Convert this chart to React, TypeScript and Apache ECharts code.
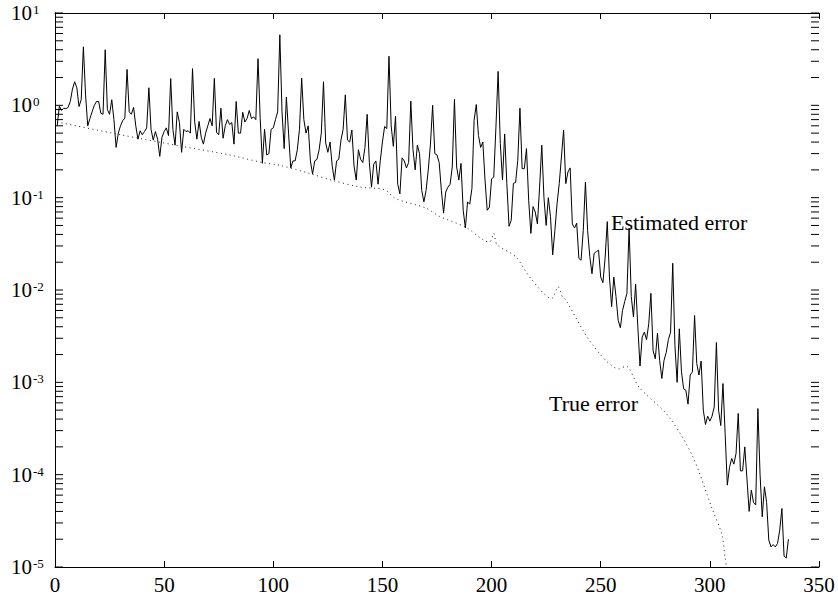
import React, { useEffect, useRef } from "react";
import * as echarts from "echarts";

// Estimated error for iterations 1..336
const estimatedError: number[] = [
  0.6, 0.98, 0.88, 0.93, 0.92, 0.95, 1.1, 1.5, 1.8, 1.55,
  0.97, 1.15, 4.3, 1.3, 0.6, 0.72, 0.85, 1.0, 1.1, 1.1,
  0.82, 0.8, 4.0, 0.9, 0.8, 1.15, 0.7, 0.35, 0.5, 0.6,
  0.68, 0.73, 2.45, 0.85, 0.8, 0.95, 0.6, 0.43, 0.53, 0.48,
  0.52, 0.57, 1.55, 0.55, 0.42, 0.52, 0.43, 0.28, 0.45, 0.52,
  0.57, 0.47, 1.95, 0.55, 0.37, 0.85, 0.65, 0.31, 0.55, 0.52,
  0.53, 0.5, 2.5, 0.66, 0.43, 0.67, 0.45, 0.38, 0.5, 0.6,
  0.72, 0.6, 1.96, 0.51, 0.48, 0.93, 0.44, 0.6, 0.7, 0.62,
  0.65, 0.38, 1.1, 0.5, 0.5, 0.84, 0.66, 0.72, 0.88, 0.72,
  0.75, 0.7, 3.2, 0.72, 0.236, 0.55, 0.29, 0.3, 0.55, 0.57,
  0.7, 0.85, 5.8, 0.85, 0.34, 1.23, 0.5, 0.21, 0.25, 0.25,
  0.33, 0.55, 1.97, 0.7, 0.5, 0.6, 0.25, 0.18, 0.25, 0.26,
  0.33, 0.5, 1.8, 0.39, 0.31, 0.4, 0.22, 0.155, 0.25, 0.26,
  0.42, 0.55, 1.3, 0.42, 0.4, 0.54, 0.22, 0.155, 0.33, 0.26,
  0.24, 0.35, 0.8, 0.24, 0.13, 0.23, 0.25, 0.14, 0.25, 0.4,
  0.59, 0.56, 3.4, 0.6, 0.36, 0.76, 0.14, 0.11, 0.27, 0.25,
  0.21, 0.24, 1.11, 0.33, 0.2, 0.37, 0.3, 0.12, 0.09, 0.12,
  0.2, 0.38, 1.0, 0.3, 0.29, 0.24, 0.12, 0.068, 0.115, 0.13,
  0.14, 0.215, 1.16, 0.215, 0.155, 0.235, 0.073, 0.047, 0.09, 0.085,
  0.126, 0.69, 1.02, 0.47, 0.35, 0.4, 0.155, 0.073, 0.079, 0.16,
  0.167, 0.58, 2.33, 0.385, 0.155, 0.49, 0.142, 0.049, 0.057, 0.143,
  0.146, 0.254, 0.93, 0.206, 0.206, 0.34, 0.094, 0.041, 0.08, 0.07,
  0.052, 0.13, 0.37, 0.1, 0.05, 0.1, 0.062, 0.024, 0.044, 0.086,
  0.142, 0.276, 0.54, 0.142, 0.19, 0.21, 0.052, 0.047, 0.053, 0.022,
  0.021, 0.044, 0.148, 0.044, 0.023, 0.015, 0.025, 0.026, 0.027, 0.0138,
  0.012, 0.022, 0.055, 0.0138, 0.0066, 0.0138, 0.0085, 0.0047, 0.0039, 0.006,
  0.0075, 0.0092, 0.047, 0.0085, 0.0051, 0.0116, 0.004, 0.0015, 0.0031, 0.0035,
  0.0029, 0.0043, 0.0092, 0.0022, 0.0018, 0.0034, 0.00173, 0.0011, 0.00173, 0.0021,
  0.0029, 0.0035, 0.0195, 0.0025, 0.001, 0.0038, 0.0013, 0.00085, 0.00082, 0.00058,
  0.0012, 0.0013, 0.0053, 0.0016, 0.0012, 0.0017, 0.0005, 0.00035, 0.00043, 0.00038,
  0.00043, 0.00054, 0.0027, 0.0005, 0.00034, 0.00097, 0.00028, 0.000077, 0.00012, 0.00015,
  0.00013, 0.00017, 0.00046, 0.00011, 0.00011, 0.0002, 0.00009, 0.00004, 0.000068, 0.00005,
  0.000047, 0.00052, 0.0001, 0.000035, 0.000074, 0.00005, 0.0000196, 0.0000165, 0.0000175, 0.0000165,
  0.000018, 0.000025, 0.000043, 0.0000131, 0.0000125, 0.00002,
];

// True error (dotted curve)
const trueErrorIter: number[] = [
  1, 30, 58, 80, 95, 103, 117, 127, 140, 151, 156, 170, 176, 188, 199, 201,
  202.5, 211, 218, 227.5, 230.5, 232.5, 234, 246, 258.5, 261.5, 267.5, 281,
  292, 301, 305.5, 307, 307.6,
];
const trueErrorValue: number[] = [
  0.66, 0.48, 0.36, 0.29, 0.24, 0.224, 0.182, 0.154, 0.13, 0.122, 0.098, 0.077,
  0.063, 0.048, 0.033, 0.041, 0.031, 0.023, 0.0133, 0.0081, 0.0108, 0.0084,
  0.0078, 0.0026, 0.0014, 0.0015, 0.00089, 0.00043, 0.00016, 0.000043,
  0.0000225, 0.0000125, 0.00001,
];

const xMin = 0;
const xMax = 350;
const xInterval = 50;
const yMin = 1e-5;
const yMax = 10;
const decades: number[] = [-5, -4, -3, -2, -1, 0, 1];
const tickMultipliers: number[] = [1, 2, 3, 4, 5, 6, 7, 8, 9];

const labelEstimated = "Estimated error";
const labelTrue = "True error";

const FONT = "'Liberation Serif', 'Times New Roman', serif";

export default function App() {
  const ref = useRef<HTMLDivElement>(null);

  useEffect(() => {
    if (!ref.current) return;
    const chart = echarts.init(ref.current, undefined, { renderer: "svg" });

    const yTickValues: number[][] = [];
    decades.forEach((d) => {
      tickMultipliers.forEach((m) => {
        const v = m * Math.pow(10, d);
        if (v >= yMin && v <= yMax) yTickValues.push([xMin, v]);
      });
    });

    const estData = estimatedError.map((v, i) => [i + 1, v]);
    const trueData = trueErrorIter.map((x, i) => [x, trueErrorValue[i]]);

    const xAxisCommon = {
      type: "value" as const,
      min: xMin,
      max: xMax,
      interval: xInterval,
      splitLine: { show: false },
      axisLine: { show: true, onZero: false, lineStyle: { color: "#000", width: 1 } },
      axisTick: { show: true, inside: true, length: 6, lineStyle: { color: "#000" } },
    };
    const yAxisCommon = {
      type: "log" as const,
      logBase: 10,
      min: yMin,
      max: yMax,
      splitNumber: 6,
      splitLine: { show: false },
      axisLine: { show: true, lineStyle: { color: "#000", width: 1 } },
      axisTick: { show: false },
    };

    chart.setOption({
      animation: false,
      backgroundColor: "#fff",
      grid: { left: 55, right: 19, top: 13, bottom: 35, containLabel: false },
      xAxis: [
        {
          ...xAxisCommon,
          position: "bottom",
          axisLabel: {
            show: true,
            margin: 7,
            fontSize: 21,
            fontFamily: FONT,
            color: "#000",
          },
        },
        {
          ...xAxisCommon,
          position: "top",
          axisLabel: { show: false },
        },
      ],
      yAxis: [
        {
          ...yAxisCommon,
          position: "left",
          axisLabel: {
            show: true,
            align: "left",
            margin: 44,
            formatter: (v: number) => {
              const e = Math.round(Math.log10(v));
              return `{b|10}{e|${e}}`;
            },
            rich: {
              b: { fontSize: 21, fontFamily: FONT, color: "#000", lineHeight: 22 },
              e: {
                fontSize: 13,
                fontFamily: FONT,
                color: "#000",
                lineHeight: 13,
                verticalAlign: "top",
                padding: [1, 0, 0, 1],
              },
            },
          },
        },
        {
          ...yAxisCommon,
          position: "right",
          axisLabel: { show: false },
        },
      ],
      series: [
        {
          type: "line",
          name: "Estimated error",
          data: estData,
          showSymbol: false,
          symbol: "none",
          lineStyle: { color: "#000", width: 1 },
          silent: true,
        },
        {
          type: "line",
          name: "True error",
          data: trueData,
          showSymbol: false,
          symbol: "none",
          smooth: 0.3,
          lineStyle: { color: "#222", width: 1, type: [1, 3.5] },
          silent: true,
        },
        {
          type: "custom",
          name: "y ticks",
          data: yTickValues,
          silent: true,
          clip: false,
          renderItem: (params: any, api: any) => {
            const v = api.value(1);
            const pL = api.coord([xMin, v]);
            const pR = api.coord([xMax, v]);
            return {
              type: "group",
              children: [
                {
                  type: "line",
                  shape: { x1: pL[0], y1: pL[1], x2: pL[0] + 8, y2: pL[1] },
                  style: { stroke: "#000", lineWidth: 1 },
                },
                {
                  type: "line",
                  shape: { x1: pR[0] - 8, y1: pR[1], x2: pR[0], y2: pR[1] },
                  style: { stroke: "#000", lineWidth: 1 },
                },
              ],
            };
          },
        },
      ],
      graphic: [
        {
          type: "text",
          x: 611,
          y: 222,
          style: {
            text: labelEstimated,
            font: `22px ${FONT}`,
            fill: "#000",
            verticalAlign: "middle",
            align: "left",
          },
        },
        {
          type: "text",
          x: 549,
          y: 403,
          style: {
            text: labelTrue,
            font: `22px ${FONT}`,
            fill: "#000",
            verticalAlign: "middle",
            align: "left",
          },
        },
      ],
    });

    return () => chart.dispose();
  }, []);

  return (
    <div
      ref={ref}
      style={{ position: "absolute", left: 0, top: 0, width: 838, height: 602 }}
    />
  );
}
